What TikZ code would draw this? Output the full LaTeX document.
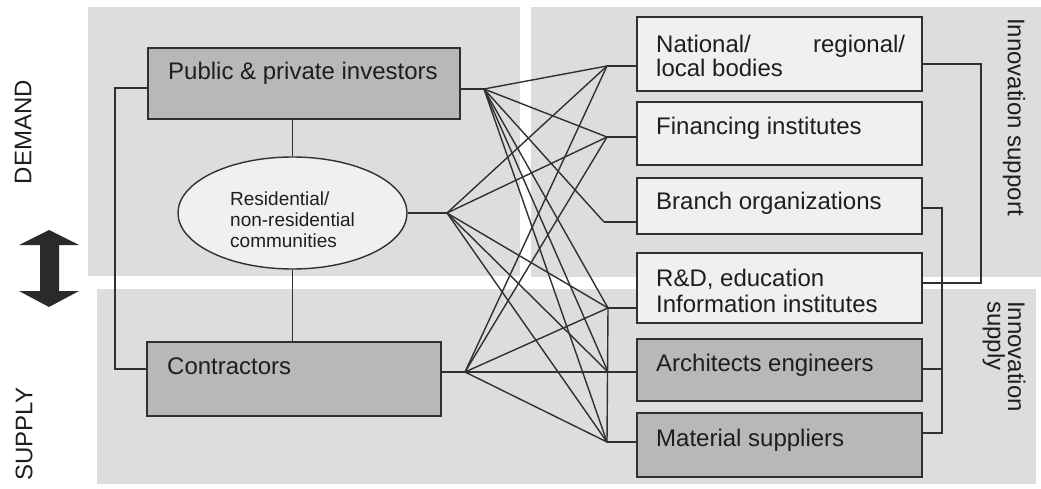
\documentclass[tikz,border=0pt]{standalone}
\usepackage{fontspec}
\setmainfont{Liberation Sans}
\usetikzlibrary{shapes.geometric}
\definecolor{panelgray}{HTML}{DDDDDD}
\definecolor{boxdark}{HTML}{B8B8B8}
\definecolor{boxlight}{HTML}{F0F0F0}
\definecolor{linegray}{HTML}{303030}
\definecolor{textgray}{HTML}{1E1E1E}
\definecolor{arrowgray}{HTML}{2A2A2A}
\begin{document}
\begin{tikzpicture}[x=1pt,y=-1pt,
  panel/.style={fill=panelgray, draw=none},
  darkbox/.style={rectangle, draw=linegray, line width=1.4pt, fill=boxdark, inner sep=0pt},
  lightbox/.style={rectangle, draw=linegray, line width=1.4pt, fill=boxlight, inner sep=0pt},
  txt/.style={font=\fontsize{24}{26}\selectfont, text=textgray, inner sep=0pt, anchor=base west},
  smalltxt/.style={font=\fontsize{19}{21}\selectfont, text=textgray, inner sep=0pt, anchor=base west},
  link/.style={draw=linegray, line width=1.4pt},
]
\useasboundingbox (0,0) rectangle (1041,489);

% background panels
\fill[panelgray] (88,7) rectangle (520,276);
\fill[panelgray] (531,7) rectangle (1041,277);
\fill[panelgray] (97,289) rectangle (1036,484);

% side labels and the demand/supply arrow
\node[txt, anchor=center, rotate=90] (demand) at (23,132) {DEMAND};
\node[txt, anchor=center, rotate=90] (supply) at (24,434) {SUPPLY};
\fill[arrowgray] (49,230) -- (79,245) -- (59,245) -- (59,291) -- (79,291) -- (49,307)
  -- (19,291) -- (40,291) -- (40,245) -- (19,245) -- cycle;

% actors
\node[darkbox, minimum width=312pt, minimum height=71pt] (pub) at (304,83.5) {};
\node[txt] (pubt) at (168,80) {Public \& private investors};
\node[ellipse, draw=linegray, line width=1.4pt, fill=boxlight, inner sep=0pt,
      minimum width=229pt, minimum height=112pt] (ell) at (292.5,213) {};
\node[smalltxt] (ellt1) at (230,205.5) {Residential/};
\node[smalltxt] (ellt2) at (230,226.5) {non-residential};
\node[smalltxt] (ellt3) at (230,247.5) {communities};
\node[darkbox, minimum width=294pt, minimum height=74pt] (con) at (294,379) {};
\node[txt] (cont) at (167,374) {Contractors};

% innovation support and supply boxes
\node[lightbox, minimum width=285pt, minimum height=74pt] (nat) at (779.5,54) {};
\node[txt] (natt1) at (656,53) {\hbox to 249pt{National/\hfill regional/}};
\node[txt] (natt2) at (656,77) {local bodies};
\node[lightbox, minimum width=285pt, minimum height=63pt] (fin) at (779.5,133.5) {};
\node[txt] (fint) at (656,134.5) {Financing institutes};
\node[lightbox, minimum width=285pt, minimum height=56pt] (br) at (779.5,206) {};
\node[txt] (brt) at (656,210) {Branch organizations};
\node[lightbox, minimum width=285pt, minimum height=70pt] (rd) at (779.5,288) {};
\node[txt] (rdt1) at (656,286) {R\&D, education};
\node[txt] (rdt2) at (656,312) {Information institutes};
\node[darkbox, minimum width=285pt, minimum height=62pt] (arc) at (779.5,370) {};
\node[txt] (arct) at (656,371) {Architects engineers};
\node[darkbox, minimum width=285pt, minimum height=64pt] (mat) at (779.5,445) {};
\node[txt] (matt) at (656,446) {Material suppliers};

\node[txt, anchor=center, rotate=-90] (insup) at (1014,117) {Innovation support};
\node[txt, rotate=-90, anchor=base west] (insa) at (1008,301) {Innovation};
\node[txt, rotate=-90, anchor=base west] (insb) at (987.5,301) {supply};

% fan points
\coordinate (P) at (484,89);
\coordinate (R) at (447,213);
\coordinate (C) at (465,372);
\coordinate (N) at (607,66);
\coordinate (F) at (607,137);
\coordinate (B) at (604,222);
\coordinate (D) at (608,308);
\coordinate (A) at (608,372);
\coordinate (M) at (607,442);

% stubs into the fan points
\draw[link] (pub.east |- P) -- (P);
\draw[link] (ell.east) -- (R);
\draw[link] (con.east |- C) -- (C);
\draw[link] (N) -- (nat.west |- N);
\draw[link] (F) -- (fin.west |- F);
\draw[link] (B) -- (br.west |- B);
\draw[link] (D) -- (rd.west |- D);
\draw[link] (A) -- (arc.west |- A);
\draw[link] (M) -- (mat.west |- M);

% cross links
\foreach \s in {P,R,C}
  \foreach \t in {N,F,D,A,M}
    \draw[link] (\s) -- (\t);
\draw[link] (P) -- (B);
\draw[link] (D) -- (M);

% left links between actors
\coordinate (lt) at (115,88);
\coordinate (lb) at (115,369);
\draw[link] (pub.west |- lt) -- (lt) -- (lb) -- (con.west |- lb);
\draw[link] (pub.south -| ell.north) -- (ell.north);
\draw[link] (ell.south) -- (con.north -| ell.south);

% right brackets
\coordinate (sa) at (981,64);
\coordinate (sb) at (981,283);
\draw[link] (nat.east |- sa) -- (sa) -- (sb) -- (rd.east |- sb);
\coordinate (ba) at (942,208);
\coordinate (bb) at (942,369);
\coordinate (bc) at (942,433);
\draw[link] (br.east |- ba) -- (ba) -- (bc) -- (mat.east |- bc);
\draw[link] (arc.east |- bb) -- (bb);
\end{tikzpicture}
\end{document}
